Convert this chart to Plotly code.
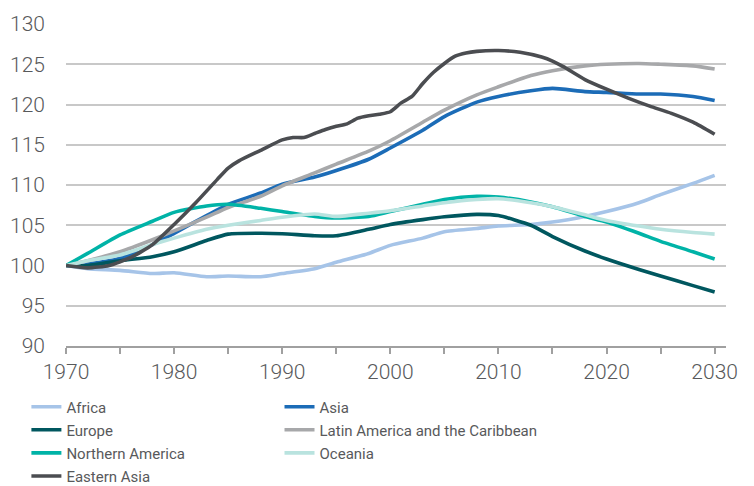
import plotly.graph_objects as go

# common sampling years for most regions
YEARS = [1970, 1972, 1975, 1978, 1980, 1983, 1985, 1988, 1990, 1993, 1995,
         1998, 2000, 2003, 2005, 2008, 2010, 2013, 2015, 2018, 2020, 2023,
         2025, 2028, 2030]

AFRICA = [100, 99.6, 99.4, 99.0, 99.1, 98.6, 98.7, 98.6, 99.0, 99.6, 100.4,
          101.5, 102.5, 103.4, 104.2, 104.6, 104.9, 105.1, 105.4, 106.1, 106.7,
          107.8, 108.8, 110.2, 111.2]
ASIA = [100, 100.2, 100.9, 102.6, 104.0, 106.2, 107.6, 109.0, 110.1, 111.0,
        111.8, 113.2, 114.6, 116.8, 118.5, 120.3, 121.0, 121.7, 122.0, 121.6,
        121.5, 121.3, 121.3, 121.0, 120.5]
EUROPE = [100, 100.0, 100.6, 101.1, 101.7, 103.1, 103.9, 104.0, 103.95, 103.7,
          103.7, 104.5, 105.1, 105.7, 106.05, 106.35, 106.2, 105.0, 103.6,
          101.8, 100.8, 99.5, 98.7, 97.5, 96.7]
LATAM = [100, 100.6, 101.7, 103.2, 104.3, 106.0, 107.2, 108.6, 109.9, 111.5,
         112.6, 114.2, 115.5, 117.8, 119.3, 121.2, 122.2, 123.6, 124.2, 124.8,
         125.0, 125.1, 125.0, 124.8, 124.4]
N_AMERICA = [100, 101.5, 103.8, 105.5, 106.6, 107.4, 107.6, 107.1, 106.7,
             106.1, 105.9, 106.1, 106.7, 107.6, 108.2, 108.6, 108.5, 107.9,
             107.3, 106.1, 105.4, 104.0, 103.0, 101.7, 100.8]
OCEANIA = [100, 100.6, 101.3, 102.6, 103.4, 104.5, 105.0, 105.6, 106.0, 106.4,
           106.1, 106.5, 106.8, 107.4, 107.8, 108.2, 108.3, 107.8, 107.3,
           106.3, 105.6, 104.9, 104.5, 104.1, 103.9]

# Eastern Asia wiggles more, so it gets a denser year list
EA_YEARS = [1970, 1972, 1974, 1976, 1978, 1980, 1982, 1984, 1985, 1986, 1988,
            1990, 1991, 1992, 1993, 1994, 1995, 1996, 1997, 1998, 1999, 2000,
            2001, 2002, 2003, 2004, 2005, 2006, 2007, 2008, 2010, 2012, 2014,
            2015, 2016, 2018, 2020, 2022, 2024, 2026, 2028, 2030]
E_ASIA = [100, 99.7, 100.0, 101.0, 102.6, 105.1, 107.8, 110.7, 112.1, 113.0,
          114.3, 115.6, 115.9, 115.9, 116.4, 116.9, 117.3, 117.6, 118.3, 118.6,
          118.8, 119.1, 120.2, 121.0, 122.6, 124.0, 125.1, 126.0, 126.4, 126.6,
          126.7, 126.5, 125.9, 125.4, 124.7, 123.1, 121.9, 120.8, 119.8, 118.9,
          117.8, 116.3]

# (name, years, values, colour, legend column)
SERIES = [
    ("Africa", YEARS, AFRICA, "#a6c4e8", "legend"),
    ("Asia", YEARS, ASIA, "#1c6cb7", "legend2"),
    ("Europe", YEARS, EUROPE, "#00575f", "legend"),
    ("Latin America and the Caribbean", YEARS, LATAM, "#a7a8aa", "legend2"),
    ("Northern America", YEARS, N_AMERICA, "#00b3a7", "legend"),
    ("Oceania", YEARS, OCEANIA, "#b9e3df", "legend2"),
    ("Eastern Asia", EA_YEARS, E_ASIA, "#4b4d51", "legend"),
]

TXT = "#58595b"
FONT = "Roboto"

fig = go.Figure()
for name, xs, ys, col, leg in SERIES:
    fig.add_trace(go.Scatter(
        x=xs, y=ys, name=name, mode="lines", legend=leg, legendgroup=name,
        line=dict(color=col, width=3.6, shape="spline", smoothing=0.6),
    ))

fig.update_xaxes(range=[1970, 2031.05], tickvals=[1970, 1980, 1990, 2000, 2010, 2020, 2030],
                 ticks="outside", ticklen=6, tickwidth=1.5, tickcolor="#a0a0a0",
                 minor=dict(tickvals=[1975, 1985, 1995, 2005, 2015, 2025],
                            ticks="outside", ticklen=6, tickwidth=1.5,
                            tickcolor="#a0a0a0", showgrid=False),
                 showgrid=False, showline=True, linecolor="#a0a0a0", linewidth=1.5,
                 tickfont=dict(size=21, color=TXT, family=FONT, weight=300),
                 ticklabelstandoff=0, zeroline=False)
fig.update_yaxes(range=[90, 130], dtick=5, showgrid=True, gridcolor="#c8c8c8",
                 gridwidth=1.5, zeroline=False, showline=False,
                 tickfont=dict(size=21, color=TXT, family=FONT, weight=300),
                 ticklabelstandoff=20)

legfont = dict(size=15, color=TXT, family=FONT)
fig.update_layout(
    width=754, height=486,
    margin=dict(l=58, r=36, t=16, b=148, autoexpand=False),
    plot_bgcolor="white", paper_bgcolor="white",
    font=dict(family=FONT, color=TXT),
    legend=dict(x=-0.06, y=-0.138, xanchor="left", yanchor="top",
                tracegroupgap=0.6, font=legfont, itemwidth=30),
    legend2=dict(x=0.3235, y=-0.138, xanchor="left", yanchor="top",
                 tracegroupgap=0.6, font=legfont, itemwidth=30),
)

fig.write_html("out.html")
